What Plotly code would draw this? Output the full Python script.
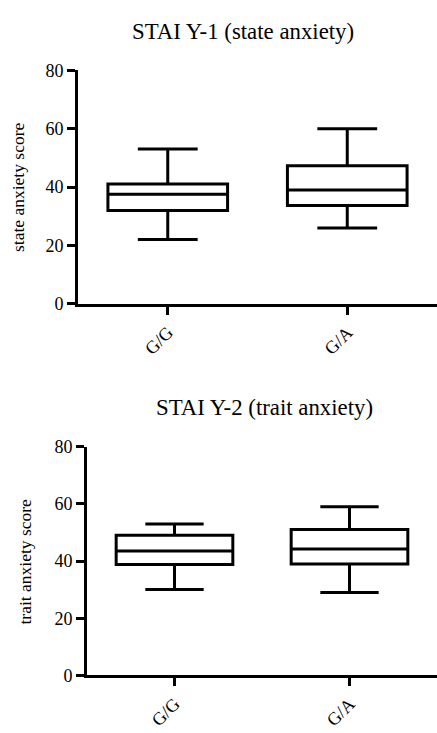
import plotly.graph_objects as go

groups = ["G/G", "G/A"]

# STAI Y-1 (state anxiety)
state_min = [22, 26]
state_q1 = [32, 33.7]
state_median = [37.5, 39]
state_q3 = [41, 47.3]
state_max = [53, 60]

# STAI Y-2 (trait anxiety)
trait_min = [30, 29]
trait_q1 = [38.8, 39]
trait_median = [43.5, 44.2]
trait_q3 = [49, 51]
trait_max = [53, 59]

y_ticks = [0, 20, 40, 60, 80]

FONT = "Liberation Serif"
box_style = dict(
    line=dict(color="black", width=3),
    fillcolor="white",
    whiskerwidth=0.5,
    width=2 / 3,
    boxpoints=False,
    showlegend=False,
    hoverinfo="skip",
)

fig = go.Figure()
fig.add_trace(go.Box(
    x=groups, q1=state_q1, median=state_median, q3=state_q3,
    lowerfence=state_min, upperfence=state_max,
    xaxis="x", yaxis="y", **box_style))
fig.add_trace(go.Box(
    x=groups, q1=trait_q1, median=trait_median, q3=trait_q3,
    lowerfence=trait_min, upperfence=trait_max,
    xaxis="x2", yaxis="y2", **box_style))

W, H = 437, 733

def xax(domain, anchor):
    return dict(domain=domain, anchor=anchor, range=[-0.5, 1.5],
                showline=True, linewidth=3, linecolor="black",
                ticks="outside", ticklen=8, tickwidth=3, tickcolor="black",
                tickangle=-45, showgrid=False, zeroline=False,
                tickfont=dict(family=FONT, size=18, color="black"))

def yax(domain, anchor):
    return dict(domain=domain, anchor=anchor, range=[0, 80],
                tickvals=y_ticks, showline=True, linewidth=3, linecolor="black",
                ticks="outside", ticklen=8, tickwidth=3, tickcolor="black",
                showgrid=False, zeroline=False,
                tickfont=dict(family=FONT, size=18, color="black"))

fig.update_layout(
    width=W, height=H,
    margin=dict(l=0, r=0, t=0, b=0),
    paper_bgcolor="white", plot_bgcolor="white",
    xaxis=xax([78 / W, 1.0], "y"),
    yaxis=yax([1 - 302 / H, 1 - 62 / H], "x"),
    xaxis2=xax([87 / W, 1.0], "y2"),
    yaxis2=yax([1 - 684 / H, 1 - 449 / H], "x2"),
    annotations=[
        dict(text="STAI Y-1 (state anxiety)", x=242.5 / W, y=1 - 22 / H,
             xref="paper", yref="paper", showarrow=False,
             xanchor="center", yanchor="middle",
             font=dict(family=FONT, size=22.8, color="black")),
        dict(text="STAI Y-2 (trait anxiety)", x=264 / W, y=1 - 409 / H,
             xref="paper", yref="paper", showarrow=False,
             xanchor="center", yanchor="middle",
             font=dict(family=FONT, size=22.8, color="black")),
        dict(text="state anxiety score", x=18 / W, y=1 - 183 / H,
             xref="paper", yref="paper", showarrow=False, textangle=-90,
             xanchor="center", yanchor="middle",
             font=dict(family=FONT, size=17.5, color="black")),
        dict(text="trait anxiety score", x=25 / W, y=1 - 567 / H,
             xref="paper", yref="paper", showarrow=False, textangle=-90,
             xanchor="center", yanchor="middle",
             font=dict(family=FONT, size=17.5, color="black")),
    ],
)

fig.write_html("out.html")
